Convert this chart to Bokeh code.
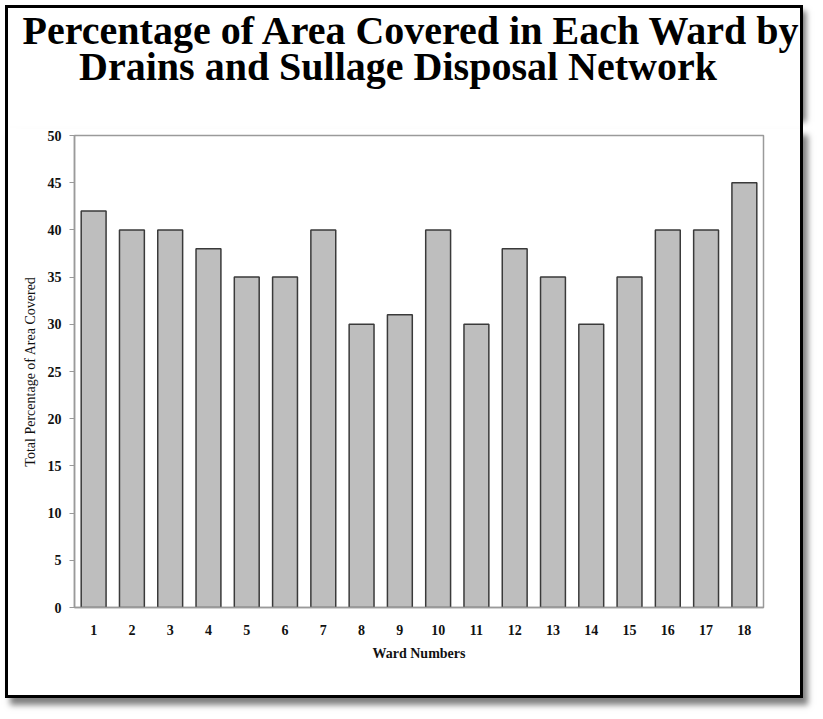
from bokeh.plotting import figure
from bokeh.models import ColumnDataSource, FactorRange, Range1d, SingleIntervalTicker
from bokeh.core.properties import value
from bokeh.embed import file_html
from bokeh.resources import INLINE

wards = [str(i) for i in range(1, 19)]
coverage = [42, 40, 40, 38, 35, 35, 40, 30, 31, 40, 30, 38, 35, 30, 35, 40, 40, 45]
title_lines = ["Percentage of Area Covered in Each Ward by",
               "Drains and Sullage Disposal Network"]
x_label = "Ward Numbers"
y_label = "Total Percentage of Area Covered"

SERIF = "Liberation Serif"
W = 798

# ---- title strip (pixel coordinates, y downward) ----
th = 123
tf = figure(width=W, height=th, x_range=Range1d(0, W), y_range=Range1d(th, 0),
            x_axis_type=None, y_axis_type=None,
            output_backend="svg", toolbar_location=None,
            min_border=0, min_border_left=0, min_border_right=0, min_border_top=0, min_border_bottom=0,
            background_fill_color="white", border_fill_color="white")
tf.grid.visible = False
tf.outline_line_color = None
tsrc = ColumnDataSource(dict(x=[403.5, 389.5], y=[22, 58], t=title_lines))
tf.text(x="x", y="y", text="t", source=tsrc, text_align="center", text_baseline="alphabetic",
        text_font=value(SERIF), text_font_style="bold", text_font_size="40px",
        text_color="#000000")
tf.styles = {"border-top": "3px solid black", "border-left": "3px solid black",
             "border-right": "3px solid black", "margin-left": "5px", "margin-top": "5px",
             "box-shadow": "9px 0px 6px -6px rgba(0,0,0,0.55)"}

# ---- bar chart ----
src = ColumnDataSource(dict(ward=wards, value=coverage))

p = figure(
    width=W, height=570,
    x_range=FactorRange(*wards, range_padding=0),
    y_range=Range1d(0, 50),
    output_backend="svg", toolbar_location=None,
    min_border_left=66, min_border_right=43, min_border_top=7, min_border_bottom=91,
    background_fill_color="white", border_fill_color="white",
)
p.styles = {"border-bottom": "3px solid black", "border-left": "3px solid black",
            "border-right": "3px solid black", "margin-left": "5px",
            "box-shadow": "5px 7px 6px rgba(0,0,0,0.5)"}

p.vbar(x="ward", top="value", width=0.65, source=src,
       fill_color="#bebebe", line_color="#3a3a3a", line_width=1.5)

p.xgrid.visible = False
p.ygrid.visible = False
p.outline_line_color = "#9a9a9a"
p.outline_line_width = 1.5

ya = p.yaxis[0]
ya.ticker = SingleIntervalTicker(interval=5)
ya.axis_line_color = "#9a9a9a"
ya.axis_line_width = 1.5
ya.major_tick_line_color = "#9a9a9a"
ya.major_tick_out = 5
ya.major_tick_in = 0
ya.minor_tick_line_color = None
ya.major_label_standoff = 8
ya.major_label_text_font = SERIF
ya.major_label_text_font_style = "bold"
ya.major_label_text_font_size = "14px"
ya.major_label_text_color = "#111111"
ya.axis_label = y_label
ya.axis_label_text_font = SERIF
ya.axis_label_text_font_style = "normal"
ya.axis_label_text_font_size = "14px"
ya.axis_label_text_color = "#111111"
ya.axis_label_standoff = 7

xa = p.xaxis[0]
xa.axis_line_color = "#9a9a9a"
xa.axis_line_width = 1.5
xa.major_tick_line_color = None
xa.major_tick_out = 0
xa.major_label_standoff = 17
xa.major_label_text_font = SERIF
xa.major_label_text_font_style = "bold"
xa.major_label_text_font_size = "14px"
xa.major_label_text_color = "#111111"
xa.axis_label = x_label
xa.axis_label_text_font = SERIF
xa.axis_label_text_font_style = "bold"
xa.axis_label_text_font_size = "14px"
xa.axis_label_text_color = "#111111"
xa.axis_label_standoff = 8

open("out.html", "w").write(file_html([tf, p], INLINE))
